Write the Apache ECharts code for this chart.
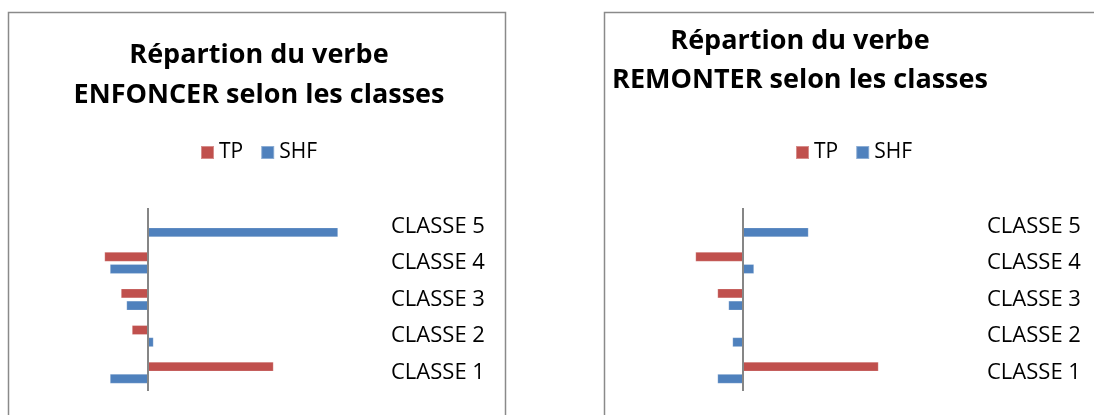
<!DOCTYPE html>
<html>
<head>
<meta charset="utf-8">
<script src="https://cdn.jsdelivr.net/npm/echarts@6/dist/echarts.min.js"></script>
<style>
  html, body { margin: 0; padding: 0; background: #ffffff; }
  #chart { width: 1094px; height: 415px; }
</style>
</head>
<body>
<div id="chart"></div>
<script>
// Categories, bottom to top on the vertical axis
const categories = ['CLASSE 1', 'CLASSE 2', 'CLASSE 3', 'CLASSE 4', 'CLASSE 5'];
const legendNames = ['TP', 'SHF'];

// ENFONCER
const enfoncerTP  = [25.1, -3.2, -5.4, -8.7, 0];
const enfoncerSHF = [-7.6, 1.1, -4.3, -7.6, 38.0];

// REMONTER
const remonterTP  = [27.1, 0, -5.1, -9.5, 0];
const remonterSHF = [-5.1, -2.1, -2.9, 2.2, 13.1];

const titles = [
  'Répartion du verbe\nENFONCER selon les classes',
  'Répartion du verbe\nREMONTER selon les classes'
];

const RED = '#C0504D';
const BLUE = '#4F81BD';
const AXIS_GREY = '#868686';
const FONT = '"Open Sans", "Noto Sans", sans-serif';

const chart = echarts.init(document.getElementById('chart'), null, { renderer: 'canvas' });

function barSeries(name, data, idx, color, withZeroLine) {
  const s = {
    name: name,
    type: 'bar',
    xAxisIndex: idx,
    yAxisIndex: idx,
    data: data,
    barWidth: 9.5,
    barGap: '28%',
    itemStyle: { color: color, borderColor: 'rgba(255,255,255,0.35)', borderWidth: 0.6 },
    emphasis: { disabled: true },
    animation: false
  };
  if (withZeroLine) {
    s.markLine = {
      silent: true,
      symbol: 'none',
      label: { show: false },
      lineStyle: { color: AXIS_GREY, width: 2, type: 'solid' },
      data: [{ xAxis: 0 }],
      animation: false
    };
  }
  return s;
}

function legendAt(x) {
  return {
    data: legendNames, left: x, top: 142, padding: 0,
    itemWidth: 13, itemHeight: 13, itemGap: 17,
    icon: 'rect', selectedMode: false,
    textStyle: { fontFamily: FONT, fontSize: 21, color: '#000', padding: [6, 0, 0, 0] }
  };
}

const option = {
  backgroundColor: '#ffffff',
  textStyle: { fontFamily: FONT },
  graphic: [
    { type: 'rect', shape: { x: 8.5, y: 12.5, width: 497, height: 440 },
      style: { fill: 'none', stroke: '#8a8a8a', lineWidth: 1.5 }, silent: true },
    { type: 'rect', shape: { x: 604.5, y: 12.5, width: 600, height: 440 },
      style: { fill: 'none', stroke: '#8a8a8a', lineWidth: 1.5 }, silent: true }
  ],
  title: [
    { text: titles[0], left: 259, top: 35, textAlign: 'center', padding: 0,
      textStyle: { fontFamily: FONT, fontWeight: 'bold', fontSize: 27, lineHeight: 40, color: '#000' } },
    { text: titles[1], left: 800, top: 22, textAlign: 'center', padding: 0,
      textStyle: { fontFamily: FONT, fontWeight: 'bold', fontSize: 27, lineHeight: 39, color: '#000' } }
  ],
  legend: [legendAt(200), legendAt(795)],
  grid: [
    { left: 98, top: 208, width: 280, height: 183 },
    { left: 693, top: 208, width: 280, height: 183 }
  ],
  xAxis: [
    { type: 'value', gridIndex: 0, min: -10, max: 46, show: false },
    { type: 'value', gridIndex: 1, min: -10, max: 46, show: false }
  ],
  yAxis: [0, 1].map(function (i) {
    return {
      type: 'category', gridIndex: i, data: categories, position: 'right',
      axisLine: { show: false }, axisTick: { show: false }, splitLine: { show: false },
      axisLabel: { margin: i === 0 ? 13 : 14, fontFamily: FONT, fontSize: 22, color: '#000' }
    };
  }),
  series: [
    barSeries('TP', enfoncerTP, 0, RED, false),
    barSeries('SHF', enfoncerSHF, 0, BLUE, true),
    barSeries('TP', remonterTP, 1, RED, false),
    barSeries('SHF', remonterSHF, 1, BLUE, true)
  ]
};

chart.setOption(option);
</script>
</body>
</html>
